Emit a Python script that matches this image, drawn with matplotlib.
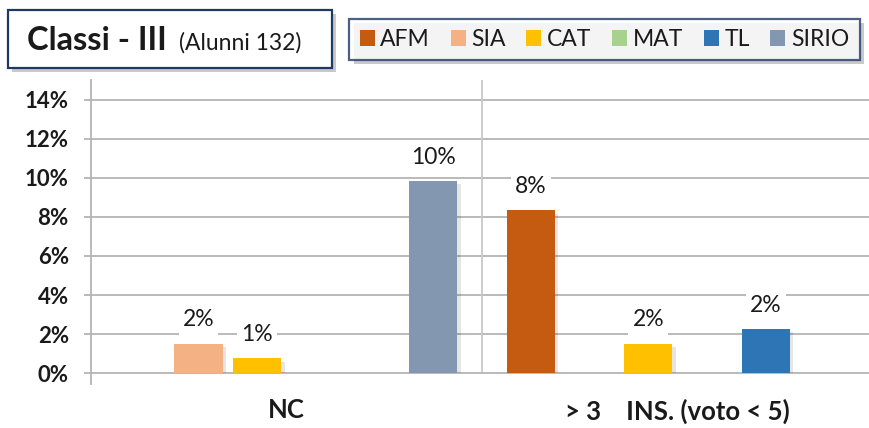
import matplotlib
matplotlib.use("Agg")
import matplotlib.pyplot as plt
import matplotlib.patheffects as pe
from matplotlib.patches import Rectangle, Patch

plt.rcParams['font.family'] = ['Lato', 'DejaVu Sans']

categories = ["NC", "> 3    INS. (voto < 5)"]
series = ["AFM", "SIA", "CAT", "MAT", "TL", "SIRIO"]
colors = ["#C55A11", "#F4B183", "#FFC000", "#A9D18E", "#2E75B6", "#8497B0"]

# percentages per category
afm = [0.0, 8.33]
sia = [1.52, 0.0]
cat = [0.76, 1.52]
mat = [0.0, 0.0]
tl = [0.0, 2.27]
sirio = [9.85, 0.0]
values = [afm, sia, cat, mat, tl, sirio]

yticks = [0, 2, 4, 6, 8, 10, 12, 14]

txt = "#1a1a1a"
grid = "#b4b4b4"

fig = plt.figure(figsize=(8.7, 4.28), dpi=100)
ax = fig.add_axes([0.1046, 0.1278, 0.8954, 0.6853])

shadow = [pe.SimplePatchShadow(offset=(2.5, -2.5), shadow_rgbFace="black", alpha=0.1), pe.Normal()]

slot = 0.15
width = 0.123
handles = []
for j, (name, col, vals) in enumerate(zip(series, colors, values)):
    xs = [i + (j - 2.5) * slot for i in range(len(categories))]
    bars = ax.bar(xs, vals, width=width, color=col, zorder=3, label=name)
    for b, v in zip(bars, vals):
        if v > 0:
            b.set_path_effects(shadow)
            ax.annotate(f"{v:.0f}%", (b.get_x() + b.get_width() / 2, v),
                        xytext=(0, 17), textcoords="offset points",
                        ha="center", va="center", fontsize=16.5, color=txt,
                        bbox=dict(facecolor="white", edgecolor="none", pad=3),
                        zorder=4)
    handles.append(Patch(facecolor=col, edgecolor="none"))

ax.set_xlim(-0.5, 1.492)
ax.set_ylim(0, 15)
ax.set_yticks(yticks)
ax.set_yticklabels([f"{t}%" for t in yticks], fontsize=16, fontweight="bold", color=txt)
ax.set_xticks(range(len(categories)))
ax.set_xticklabels(categories, fontsize=18.5, fontweight="bold", color=txt)
ax.tick_params(axis="x", length=0, pad=18)
ax.tick_params(axis="y", length=5, width=1.3, color=grid, pad=11)

for s in ["top", "right", "left"]:
    ax.spines[s].set_visible(False)
ax.spines["bottom"].set_color(grid)
ax.spines["bottom"].set_linewidth(1.3)
for t in yticks[1:]:
    ax.axhline(t, color=grid, lw=1.3, zorder=1)
ax.axvline(0.5, color="#c8c8c8", lw=1.3, zorder=1)
ax.plot([0, 0], [-0.035, 1], transform=ax.transAxes, color=grid, lw=1.3,
        clip_on=False, zorder=2)

# title box
W, H = 870, 428
navy = "#1F3864"
box_fx = [pe.SimplePatchShadow(offset=(3, -3), alpha=0.3), pe.Normal()]
tb = Rectangle((8 / W, 1 - 68 / H), 324 / W, 58 / H, transform=fig.transFigure,
               facecolor="white", edgecolor=navy, lw=1.6, path_effects=box_fx)
fig.add_artist(tb)
t1 = fig.text(27 / W, 1 - 50 / H, "Classi - III", fontsize=23.5, fontweight="bold",
              color=txt, va="baseline", ha="left")
fig.canvas.draw()
ext = t1.get_window_extent()
fig.text(ext.x1 / W + 12 / W, 1 - 50 / H, "(Alunni 132)", fontsize=16.5,
         color=txt, va="baseline", ha="left")

leg = fig.legend(handles, series, loc="center",
                 bbox_to_anchor=((347 + 862) / 2 / W, 1 - 39.5 / H), ncol=6,
                 fontsize=16.5, frameon=True, fancybox=False,
                 handlelength=0.65, handleheight=0.65, handletextpad=0.25,
                 columnspacing=0.9, borderpad=0.45)
fr = leg.get_frame()
fr.set_edgecolor(navy)
fr.set_linewidth(1.6)
fr.set_path_effects(box_fx)
for tx in leg.get_texts():
    tx.set_color(txt)

fig.savefig("out.png", dpi=100)
